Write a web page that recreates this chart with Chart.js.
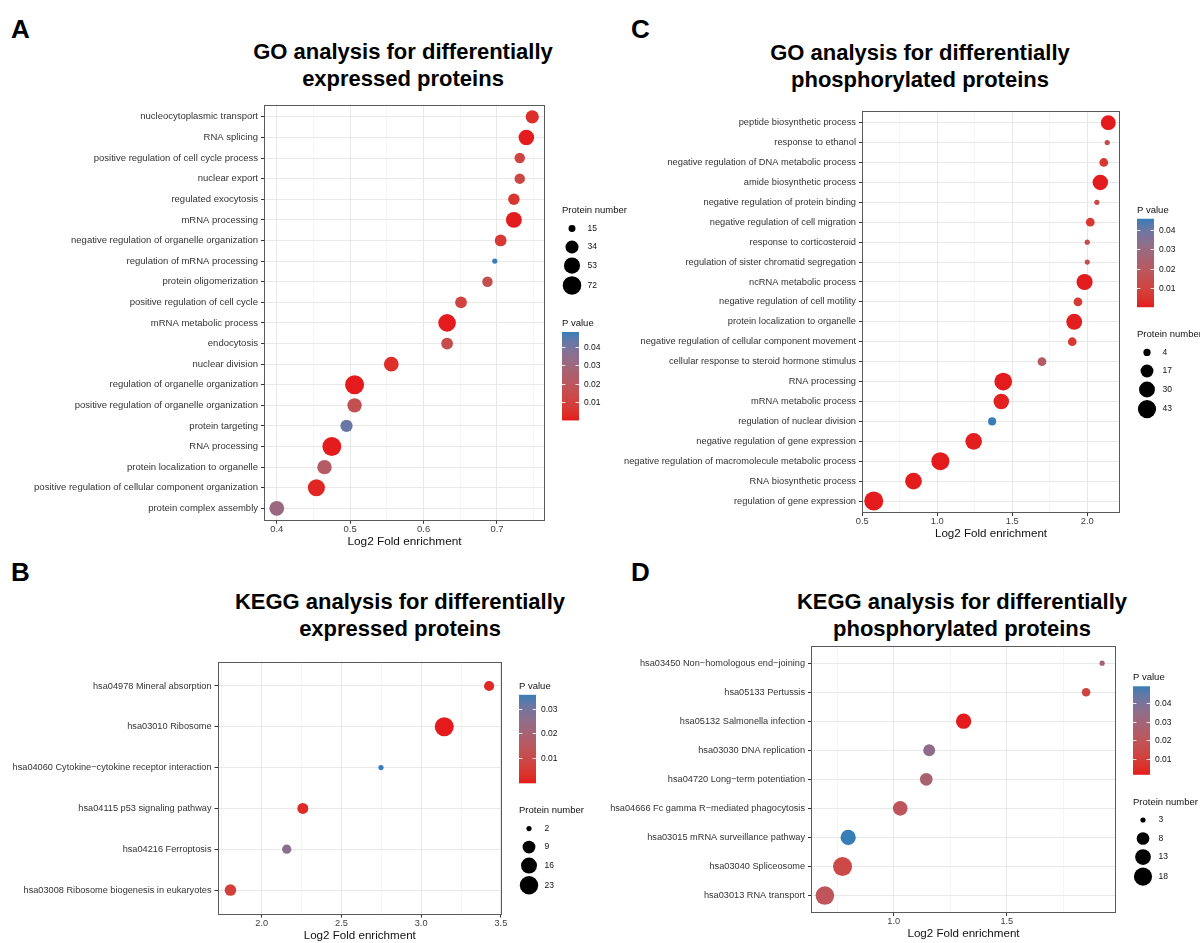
<!DOCTYPE html>
<html>
<head>
<meta charset="utf-8">
<script src="https://cdn.jsdelivr.net/npm/chart.js@4.4.1/dist/chart.umd.min.js"></script>
<style>
  body { margin: 0; background: #fff; width: 1200px; height: 943px; position: relative; overflow: hidden;
         font-family: 'Liberation Sans', Arial, sans-serif; }
  canvas { position: absolute; }
  .tag { position: absolute; font-weight: bold; font-size: 26px; line-height: 1; color: #000; }
  .ttl { position: absolute; width: 460px; font-weight: bold; font-size: 22px; line-height: 26.5px;
         text-align: center; color: #000; white-space: nowrap; }
</style>
</head>
<body>
<div class="tag" style="left:11px;top:16px">A</div>
<div class="tag" style="left:631px;top:16px">C</div>
<div class="tag" style="left:11px;top:559px">B</div>
<div class="tag" style="left:631px;top:559px">D</div>

<div class="ttl" style="left:173px;top:39px">GO analysis for differentially<br>expressed proteins</div>
<div class="ttl" style="left:690px;top:40px">GO analysis for differentially<br>phosphorylated proteins</div>
<div class="ttl" style="left:170px;top:589px">KEGG analysis for differentially<br>expressed proteins</div>
<div class="ttl" style="left:732px;top:589px">KEGG analysis for differentially<br>phosphorylated proteins</div>

<canvas id="chartA"></canvas>
<canvas id="chartC"></canvas>
<canvas id="chartB"></canvas>
<canvas id="chartD"></canvas>

<script>
(function() {
    'use strict';

    // A — GO, differentially expressed proteins (top row first)
    var catsA = ['nucleocytoplasmic transport', 'RNA splicing', 'positive regulation of cell cycle process',
        'nuclear export', 'regulated exocytosis', 'mRNA processing', 'negative regulation of organelle organization',
        'regulation of mRNA processing', 'protein oligomerization', 'positive regulation of cell cycle',
        'mRNA metabolic process', 'endocytosis', 'nuclear division', 'regulation of organelle organization',
        'positive regulation of organelle organization', 'protein targeting', 'RNA processing',
        'protein localization to organelle', 'positive regulation of cellular component organization',
        'protein complex assembly'];
    var foldA = [0.748, 0.740, 0.731, 0.731, 0.723, 0.723, 0.705, 0.697, 0.687, 0.651,
                 0.632, 0.632, 0.556, 0.506, 0.506, 0.495, 0.475, 0.465, 0.454, 0.400];
    var countA = [35, 49, 23, 23, 27, 51, 28, 14, 23, 28, 64, 28, 44, 76, 41, 30, 75, 42, 60, 44];
    var pvalA = [0.004, 0.0003, 0.011, 0.012, 0.006, 0.0004, 0.007, 0.048, 0.016, 0.011,
                 0.0002, 0.015, 0.004, 0.00005, 0.016, 0.042, 0.0003, 0.022, 0.002, 0.031];
    var xTicksA = [0.4, 0.5, 0.6, 0.7];
    var sizeBreaksA = [15, 34, 53, 72];
    var pBreaksA = [0.01, 0.02, 0.03, 0.04];

    // C — GO, differentially phosphorylated proteins
    var catsC = ['peptide biosynthetic process', 'response to ethanol', 'negative regulation of DNA metabolic process',
        'amide biosynthetic process', 'negative regulation of protein binding', 'negative regulation of cell migration',
        'response to corticosteroid', 'regulation of sister chromatid segregation', 'ncRNA metabolic process',
        'negative regulation of cell motility', 'protein localization to organelle',
        'negative regulation of cellular component movement', 'cellular response to steroid hormone stimulus',
        'RNA processing', 'mRNA metabolic process', 'regulation of nuclear division',
        'negative regulation of gene expression', 'negative regulation of macromolecule metabolic process',
        'RNA biosynthetic process', 'regulation of gene expression'];
    var foldC = [2.140, 2.133, 2.110, 2.087, 2.064, 2.020, 2.000, 2.000, 1.982, 1.938,
                 1.913, 1.900, 1.698, 1.440, 1.427, 1.366, 1.243, 1.021, 0.842, 0.577];
    var countC = [25, 3, 6, 28, 3, 6, 3, 3, 31, 6, 30, 6, 6, 40, 28, 5, 34, 42, 34, 48];
    var pvalC = [0.0002, 0.014, 0.006, 0.0003, 0.012, 0.006, 0.013, 0.015, 0.0001, 0.007,
                 0.0005, 0.006, 0.021, 0.0002, 0.001, 0.0457, 0.0005, 0.0002, 0.0004, 0.00001];
    var xTicksC = [0.5, 1.0, 1.5, 2.0];
    var sizeBreaksC = [4, 17, 30, 43];
    var pBreaksC = [0.01, 0.02, 0.03, 0.04];

    // B — KEGG, differentially expressed proteins
    var catsB = ['hsa04978 Mineral absorption', 'hsa03010 Ribosome',
        'hsa04060 Cytokine\u2212cytokine receptor interaction', 'hsa04115 p53 signaling pathway',
        'hsa04216 Ferroptosis', 'hsa03008 Ribosome biogenesis in eukaryotes'];
    var foldB = [3.426, 3.145, 2.748, 2.258, 2.157, 1.804];
    var countB = [5, 25, 2, 6, 4, 7];
    var pvalB = [0.002, 0.00001, 0.0355, 0.002, 0.026, 0.007];
    var xTicksB = [2.0, 2.5, 3.0, 3.5];
    var sizeBreaksB = [2, 9, 16, 23];
    var pBreaksB = [0.01, 0.02, 0.03];

    // D — KEGG, differentially phosphorylated proteins
    var catsD = ['hsa03450 Non\u2212homologous end\u2212joining', 'hsa05133 Pertussis', 'hsa05132 Salmonella infection',
        'hsa03030 DNA replication', 'hsa04720 Long\u2212term potentiation',
        'hsa04666 Fc gamma R\u2212mediated phagocytosis', 'hsa03015 mRNA surveillance pathway',
        'hsa03040 Spliceosome', 'hsa03013 RNA transport'];
    var foldD = [1.921, 1.850, 1.309, 1.157, 1.144, 1.029, 0.799, 0.774, 0.696];
    var countD = [3, 4, 12, 7, 8, 11, 12, 20, 19];
    var pvalD = [0.029, 0.012, 0.0013, 0.035, 0.027, 0.020, 0.049, 0.014, 0.020];
    var xTicksD = [1.0, 1.5];
    var sizeBreaksD = [3, 8, 13, 18];
    var pBreaksD = [0.01, 0.02, 0.03, 0.04];

    var FONT = "'Liberation Sans', Arial, sans-serif";
    var D_MIN = 5.2, D_MAX = 19;   // bubble diameters (px) for smallest / largest count

    // red -> blue gradient, interpolated in Lab like ggplot
    function hexRgb(h) { return [1, 3, 5].map(function(i) { return parseInt(h.substr(i, 2), 16); }); }
    function toLab(rgb) {
        var l = rgb.map(function(c) { c /= 255; return c <= 0.04045 ? c / 12.92 : Math.pow((c + 0.055) / 1.055, 2.4); });
        var X = (0.4124 * l[0] + 0.3576 * l[1] + 0.1805 * l[2]) / 0.95047;
        var Y = (0.2126 * l[0] + 0.7152 * l[1] + 0.0722 * l[2]);
        var Z = (0.0193 * l[0] + 0.1192 * l[1] + 0.9505 * l[2]) / 1.08883;
        var f = function(t) { return t > 0.008856 ? Math.cbrt(t) : 7.787 * t + 16 / 116; };
        return [116 * f(Y) - 16, 500 * (f(X) - f(Y)), 200 * (f(Y) - f(Z))];
    }
    function fromLab(lab) {
        var fy = (lab[0] + 16) / 116, fx = fy + lab[1] / 500, fz = fy - lab[2] / 200;
        var g = function(t) { return t * t * t > 0.008856 ? t * t * t : (t - 16 / 116) / 7.787; };
        var X = g(fx) * 0.95047, Y = g(fy), Z = g(fz) * 1.08883;
        var lin = [3.2406 * X - 1.5372 * Y - 0.4986 * Z, -0.9689 * X + 1.8758 * Y + 0.0415 * Z,
                   0.0557 * X - 0.2040 * Y + 1.0570 * Z];
        return lin.map(function(c) {
            c = c <= 0.0031308 ? 12.92 * c : 1.055 * Math.pow(c, 1 / 2.4) - 0.055;
            return Math.round(Math.max(0, Math.min(1, c)) * 255);
        });
    }
    var LOW = toLab(hexRgb('#E41A1C')), HIGH = toLab(hexRgb('#377EB8'));
    function gradColor(t) {
        var c = fromLab(LOW.map(function(v, i) { return v + (HIGH[i] - v) * t; }));
        return 'rgb(' + c.join(',') + ')';
    }

    var framePlugin = {
        id: 'frame',
        afterDatasetsDraw: function(chart) {
            var a = chart.chartArea, ctx = chart.ctx;
            var l = Math.round(a.left) + 0.5, t = Math.round(a.top) + 0.5;
            var r = Math.round(a.right) - 0.5, b = Math.round(a.bottom) - 0.5;
            ctx.save();
            ctx.strokeStyle = '#5a5a5a';
            ctx.lineWidth = 1;
            ctx.strokeRect(l, t, r - l, b - t);
            ctx.restore();
        }
    };

    // ggplot-style guides: size legend + colour bar, centred on the panel
    var guidePlugin = {
        id: 'guides',
        afterDraw: function(chart, args, o) {
            var ctx = chart.ctx, a = chart.chartArea;
            var x = a.right + 17, TITLE = 14.5, GAP = 21.5, BAR = 88.5, BW = 17;
            var keyH = function(v) { return Math.max(18.5, 2 * o.radius(v) + 2.5); };
            var heights = o.order.map(function(k) {
                if (k === 'color') return TITLE + BAR;
                return TITLE + o.sizeBreaks.reduce(function(s, v) { return s + keyH(v); }, 0);
            });
            var total = heights.reduce(function(s, h) { return s + h; }, 0) + GAP * (heights.length - 1);
            var y = (a.top + a.bottom) / 2 - total / 2;
            ctx.save();
            ctx.textBaseline = 'middle';
            o.order.forEach(function(k, idx) {
                ctx.fillStyle = '#111';
                ctx.textAlign = 'left';
                ctx.font = '9.5px ' + FONT;
                ctx.fillText(k === 'color' ? 'P value' : 'Protein number', x, y + 6);
                var y0 = y + TITLE;
                ctx.font = '8.5px ' + FONT;
                if (k === 'color') {
                    var yb = y0 + BAR;
                    var grad = ctx.createLinearGradient(0, yb, 0, y0);
                    for (var i = 0; i <= 20; i++) grad.addColorStop(i / 20, gradColor(i / 20));
                    ctx.fillStyle = grad;
                    ctx.fillRect(x, y0, BW, BAR);
                    o.pBreaks.forEach(function(p) {
                        var py = Math.round(yb - (p - o.pMin) / (o.pMax - o.pMin) * BAR) + 0.5;
                        ctx.strokeStyle = 'rgba(255,255,255,0.85)';
                        ctx.lineWidth = 1;
                        ctx.beginPath();
                        ctx.moveTo(x, py); ctx.lineTo(x + 3.4, py);
                        ctx.moveTo(x + BW - 3.4, py); ctx.lineTo(x + BW, py);
                        ctx.stroke();
                        ctx.fillStyle = '#111';
                        ctx.fillText(p.toFixed(2), x + BW + 5, py);
                    });
                } else {
                    var cy = y0;
                    o.sizeBreaks.forEach(function(v) {
                        var h = keyH(v), c = cy + h / 2;
                        ctx.fillStyle = '#000';
                        ctx.beginPath();
                        ctx.arc(x + 10, c, o.radius(v), 0, Math.PI * 2);
                        ctx.fill();
                        ctx.fillStyle = '#111';
                        ctx.fillText(String(v), x + 25.5, c);
                        cy += h;
                    });
                }
                y += heights[idx] + GAP;
            });
            ctx.restore();
        }
    };

    function makePanel(p) {
        var cv = document.getElementById(p.id);
        cv.width = p.box.w; cv.height = p.box.h;
        cv.style.left = p.box.x + 'px'; cv.style.top = p.box.y + 'px';

        var n = p.cats.length;
        var lo = Math.min.apply(null, p.fold), hi = Math.max.apply(null, p.fold);
        var xmin = lo - 0.05 * (hi - lo), xmax = hi + 0.05 * (hi - lo);
        var step = p.xTicks[1] - p.xTicks[0];
        var ticks = [];
        for (var v = p.xTicks[0] - step; v <= p.xTicks[p.xTicks.length - 1] + step + 1e-9; v += step / 2) {
            var r = Math.round(v * 10000) / 10000;
            if (r >= xmin && r <= xmax) ticks.push(r);
        }
        var isMajor = function(val) { return p.xTicks.some(function(t) { return Math.abs(t - val) < 1e-6; }); };

        var cMin = Math.min.apply(null, p.count), cMax = Math.max.apply(null, p.count);
        var radius = function(c) {
            var s = Math.sqrt(Math.max(0, (c - cMin) / (cMax - cMin)));
            return (D_MIN + (D_MAX - D_MIN) * s) / 2;
        };
        var pMin = Math.min.apply(null, p.pval), pMax = Math.max.apply(null, p.pval);

        new Chart(cv, {
            type: 'bubble',
            data: {
                datasets: [{
                    data: p.cats.map(function(c, i) { return { x: p.fold[i], y: i + 1, r: radius(p.count[i]) }; }),
                    backgroundColor: p.pval.map(function(pv) { return gradColor((pv - pMin) / (pMax - pMin)); }),
                    borderWidth: 0,
                    hoverBorderWidth: 0,
                    clip: false
                }]
            },
            options: {
                responsive: false,
                animation: false,
                events: [],
                layout: {
                    padding: {
                        left: 0,
                        top: p.plot.t - p.box.y,
                        right: p.box.x + p.box.w - p.plot.r,
                        bottom: p.box.y + p.box.h - p.plot.b - 28
                    }
                },
                plugins: {
                    legend: { display: false },
                    tooltip: { enabled: false },
                    guides: { order: p.order, sizeBreaks: p.sizeBreaks, pBreaks: p.pBreaks,
                              radius: radius, pMin: pMin, pMax: pMax }
                },
                scales: {
                    x: {
                        type: 'linear',
                        min: xmin,
                        max: xmax,
                        afterBuildTicks: function(s) { s.ticks = ticks.map(function(t) { return { value: t }; }); },
                        afterFit: function(s) { s.height = 28; },
                        border: { display: false },
                        grid: {
                            color: function(c) { return isMajor(c.tick.value) ? '#e8e8e8' : '#f2f2f2'; },
                            lineWidth: function(c) { return isMajor(c.tick.value) ? 1 : 0.7; },
                            tickColor: function(c) { return isMajor(c.tick.value) ? '#333' : 'rgba(0,0,0,0)'; },
                            tickLength: 3
                        },
                        ticks: {
                            autoSkip: false,
                            maxRotation: 0,
                            padding: 0,
                            color: '#3d3d3d',
                            font: { family: FONT, size: p.fs },
                            callback: function(val) { return isMajor(val) ? val.toFixed(1) : ''; }
                        },
                        title: {
                            display: true,
                            text: 'Log2 Fold enrichment',
                            color: '#111',
                            padding: 0,
                            font: { family: FONT, size: p.ts }
                        }
                    },
                    y: {
                        type: 'linear',
                        reverse: true,
                        min: 0.4,
                        max: n + 0.6,
                        afterBuildTicks: function(s) {
                            s.ticks = p.cats.map(function(c, i) { return { value: i + 1 }; });
                        },
                        afterFit: function(s) { s.width = p.plot.l - p.box.x; },
                        border: { display: false },
                        grid: { color: '#e8e8e8', lineWidth: 1, tickColor: '#333', tickLength: 3 },
                        ticks: {
                            autoSkip: false,
                            padding: 3,
                            color: '#333',
                            font: { family: FONT, size: p.fs },
                            callback: function(val) { return p.cats[Math.round(val) - 1]; }
                        }
                    }
                }
            },
            plugins: [framePlugin, guidePlugin]
        });
    }

    makePanel({ id: 'chartA', box: { x: 0, y: 95, w: 640, h: 470 }, plot: { l: 264, t: 103.3, r: 545, b: 520.7 },
        cats: catsA, fold: foldA, count: countA, pval: pvalA, xTicks: xTicksA,
        sizeBreaks: sizeBreaksA, pBreaks: pBreaksA, order: ['size', 'color'], fs: 9.5, ts: 11.8 });
    makePanel({ id: 'chartC', box: { x: 600, y: 100, w: 600, h: 460 }, plot: { l: 862, t: 110.7, r: 1120, b: 513 },
        cats: catsC, fold: foldC, count: countC, pval: pvalC, xTicks: xTicksC,
        sizeBreaks: sizeBreaksC, pBreaks: pBreaksC, order: ['color', 'size'], fs: 9.3, ts: 11.6 });
    makePanel({ id: 'chartB', box: { x: 0, y: 650, w: 600, h: 293 }, plot: { l: 217.5, t: 661.5, r: 502, b: 914.5 },
        cats: catsB, fold: foldB, count: countB, pval: pvalB, xTicks: xTicksB,
        sizeBreaks: sizeBreaksB, pBreaks: pBreaksB, order: ['color', 'size'], fs: 9.2, ts: 11.6 });
    makePanel({ id: 'chartD', box: { x: 590, y: 635, w: 610, h: 308 }, plot: { l: 811, t: 645.7, r: 1116, b: 913 },
        cats: catsD, fold: foldD, count: countD, pval: pvalD, xTicks: xTicksD,
        sizeBreaks: sizeBreaksD, pBreaks: pBreaksD, order: ['color', 'size'], fs: 9.2, ts: 11.6 });
})();
</script>
</body>
</html>
